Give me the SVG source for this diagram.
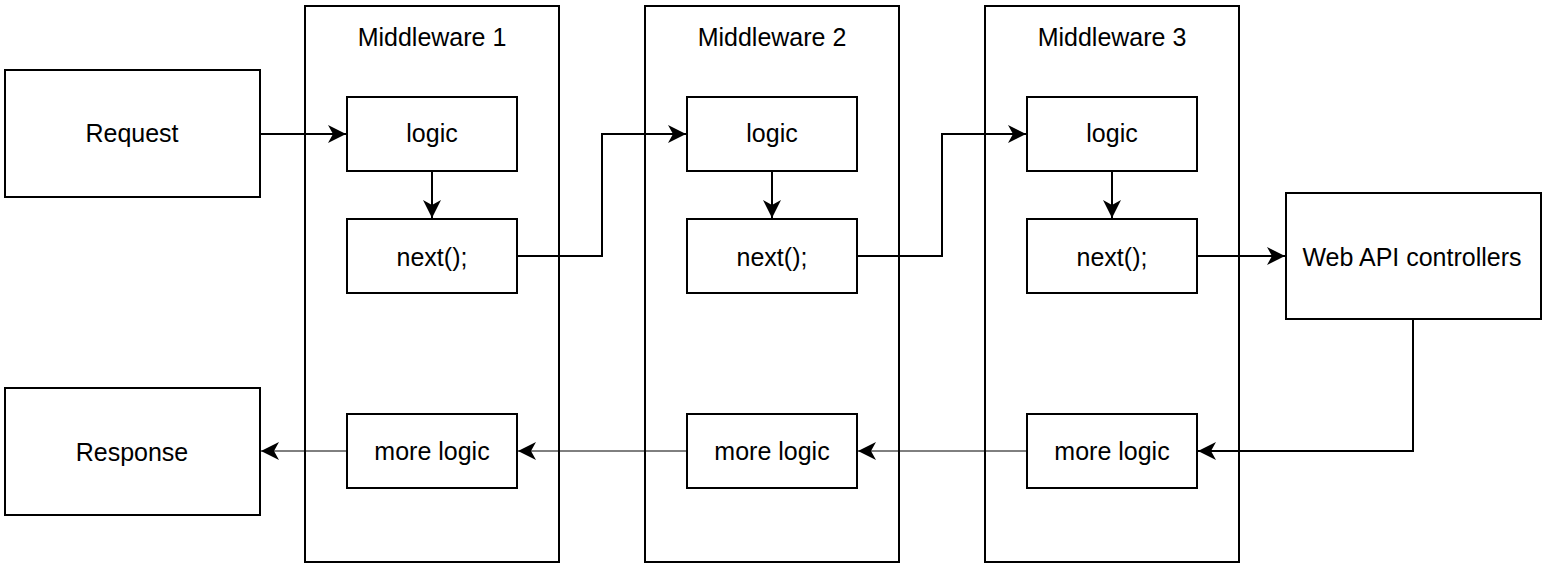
<svg xmlns="http://www.w3.org/2000/svg" width="1546" height="567" viewBox="0 0 1546 567">
<style>
.box{fill:#fff;stroke:#000;stroke-width:2}
.cont{fill:none;stroke:#000;stroke-width:2}
text{font-family:"Liberation Sans",Arial,sans-serif;font-size:25px;fill:#000;text-anchor:middle}
.e{fill:none;stroke:#000;stroke-width:2}
.t{fill:none;stroke:#000;stroke-width:1}
</style>
<defs>
<marker id="arr" markerUnits="userSpaceOnUse" markerWidth="20" markerHeight="20" viewBox="-19 -10 20 20" refX="0" refY="0" orient="auto">
<path d="M0,0 L-18,-9 L-13,0 L-18,9 Z" fill="#000" stroke="none"/>
</marker>
</defs>
<rect width="1546" height="567" fill="#fff"/>
<g id="mw1"><rect class="cont" x="305" y="6" width="254" height="556"/><text x="432" y="46">Middleware 1</text></g>
<g id="mw2"><rect class="cont" x="645" y="6" width="254" height="556"/><text x="772" y="46">Middleware 2</text></g>
<g id="mw3"><rect class="cont" x="985" y="6" width="254" height="556"/><text x="1112" y="46">Middleware 3</text></g>
<g id="request"><rect class="box" x="5" y="70" width="255" height="127"/><text x="132" y="142">Request</text></g>
<g id="response"><rect class="box" x="5" y="388" width="255" height="127"/><text x="132" y="461">Response</text></g>
<g id="webapi"><rect class="box" x="1286" y="193" width="255" height="126"/><text x="1412" y="266">Web API controllers</text></g>
<g id="logic1"><rect class="box" x="347" y="97" width="170" height="74"/><text x="432" y="142">logic</text></g>
<g id="next1"><rect class="box" x="347" y="219" width="170" height="74"/><text x="432" y="266">next();</text></g>
<g id="more1"><rect class="box" x="347" y="414" width="170" height="74"/><text x="432" y="460">more logic</text></g>
<g id="logic2"><rect class="box" x="687" y="97" width="170" height="74"/><text x="772" y="142">logic</text></g>
<g id="next2"><rect class="box" x="687" y="219" width="170" height="74"/><text x="772" y="266">next();</text></g>
<g id="more2"><rect class="box" x="687" y="414" width="170" height="74"/><text x="772" y="460">more logic</text></g>
<g id="logic3"><rect class="box" x="1027" y="97" width="170" height="74"/><text x="1112" y="142">logic</text></g>
<g id="next3"><rect class="box" x="1027" y="219" width="170" height="74"/><text x="1112" y="266">next();</text></g>
<g id="more3"><rect class="box" x="1027" y="414" width="170" height="74"/><text x="1112" y="460">more logic</text></g>
<g id="connectors">
<path class="e" d="M260,134 H346" marker-end="url(#arr)"/>
<path class="e" d="M432,171 V218" marker-end="url(#arr)"/>
<path class="e" d="M772,171 V218" marker-end="url(#arr)"/>
<path class="e" d="M1112,171 V218" marker-end="url(#arr)"/>
<path class="e" d="M517,256 H602 V134 H686" marker-end="url(#arr)"/>
<path class="e" d="M857,256 H942 V134 H1026" marker-end="url(#arr)"/>
<path class="e" d="M1197,256 H1285" marker-end="url(#arr)"/>
<path class="e" d="M1413,319 V451 H1198" stroke-width="2" marker-end="url(#arr)"/>
<path class="t" d="M1027,451 H858" marker-end="url(#arr)"/>
<path class="t" d="M687,451 H518" marker-end="url(#arr)"/>
<path class="t" d="M347,451 H261" marker-end="url(#arr)"/>
</g>
</svg>
